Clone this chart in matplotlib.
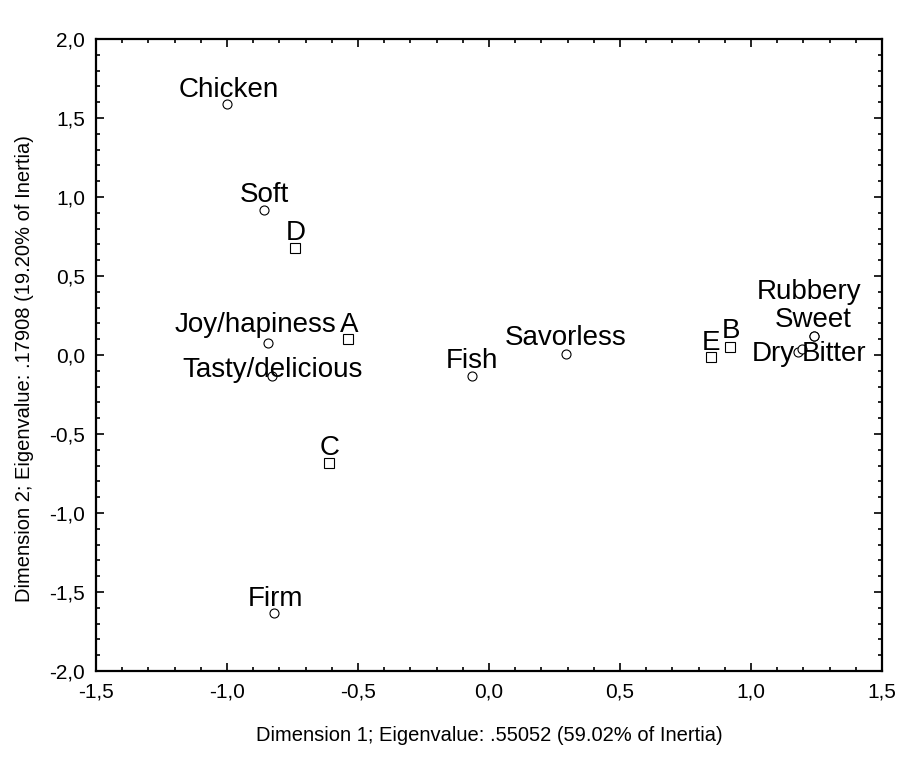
import matplotlib
matplotlib.use('Agg')
import matplotlib.pyplot as plt
from matplotlib.ticker import MultipleLocator, FuncFormatter

plt.rcParams['font.family'] = ['Liberation Sans', 'DejaVu Sans']

# row points (attributes) - circles
row_names = ['Chicken', 'Soft', 'Joy/hapiness', 'Tasty/delicious', 'Firm', 'Fish',
             'Savorless', 'Dry', 'Bitter', 'Sweet', 'Rubbery']
row_x = [-1.00, -0.859, -0.843, -0.828, -0.821, -0.065, 0.294, 1.179, 1.195, 1.240, 1.240]
row_y = [1.59, 0.918, 0.076, -0.133, -1.633, -0.133, 0.006, 0.019, 0.038, 0.120, 0.118]

# column points (samples) - squares
col_names = ['A', 'B', 'C', 'D', 'E']
col_x = [-0.538, 0.920, -0.611, -0.740, 0.847]
col_y = [0.101, 0.051, -0.684, 0.677, -0.013]

# label offsets in pixels
row_off = {'Chicken': (2, 7), 'Soft': (0, 8), 'Joy/hapiness': (-13, 11),
           'Tasty/delicious': (0, -1), 'Firm': (2, 7), 'Fish': (0, 8),
           'Savorless': (0, 9), 'Dry': (-25, -9), 'Bitter': (32, -12),
           'Sweet': (-1, 9), 'Rubbery': (-5, 37)}
col_off = {'A': (1, 7), 'B': (1, 9), 'C': (1, 8), 'D': (1, 8), 'E': (0, 7)}

fig = plt.figure(figsize=(9.21, 7.68), dpi=100)
ax = fig.add_axes([96 / 921, 1 - 671 / 768, 786 / 921, 632 / 768])

ax.plot(row_x, row_y, 'o', ms=6.5, mfc='white', mec='black', mew=0.8, ls='none')
ax.plot(col_x, col_y, 's', ms=6.5, mfc='white', mec='black', mew=0.8, ls='none')

for n, x, y in zip(row_names, row_x, row_y):
    ax.annotate(n, (x, y), xytext=row_off[n], textcoords='offset pixels',
                ha='center', va='baseline', fontsize=20)
for n, x, y in zip(col_names, col_x, col_y):
    ax.annotate(n, (x, y), xytext=col_off[n], textcoords='offset pixels',
                ha='center', va='baseline', fontsize=20)

ax.set_xlim(-1.5, 1.5)
ax.set_ylim(-2.0, 2.0)
ax.xaxis.set_major_locator(MultipleLocator(0.5))
ax.xaxis.set_minor_locator(MultipleLocator(0.1))
ax.yaxis.set_major_locator(MultipleLocator(0.5))
ax.yaxis.set_minor_locator(MultipleLocator(0.1))
fmt = FuncFormatter(lambda v, p: ('%.1f' % v).replace('.', ','))
ax.xaxis.set_major_formatter(fmt)
ax.yaxis.set_major_formatter(fmt)
ax.tick_params(which='both', direction='in', top=True, right=True, width=1.2,
               labelsize=15, pad=8)
ax.tick_params(which='major', length=6)
ax.tick_params(which='minor', length=3)
for s in ax.spines.values():
    s.set_linewidth(1.6)

ax.set_xlabel('Dimension 1; Eigenvalue: .55052 (59.02% of Inertia)', fontsize=14.5, labelpad=18)
ax.set_ylabel('Dimension 2; Eigenvalue: .17908 (19.20% of Inertia)', fontsize=14.5, labelpad=13)
ax.yaxis.set_label_coords(-0.079, 0.479)

fig.savefig('out.png', dpi=100)
